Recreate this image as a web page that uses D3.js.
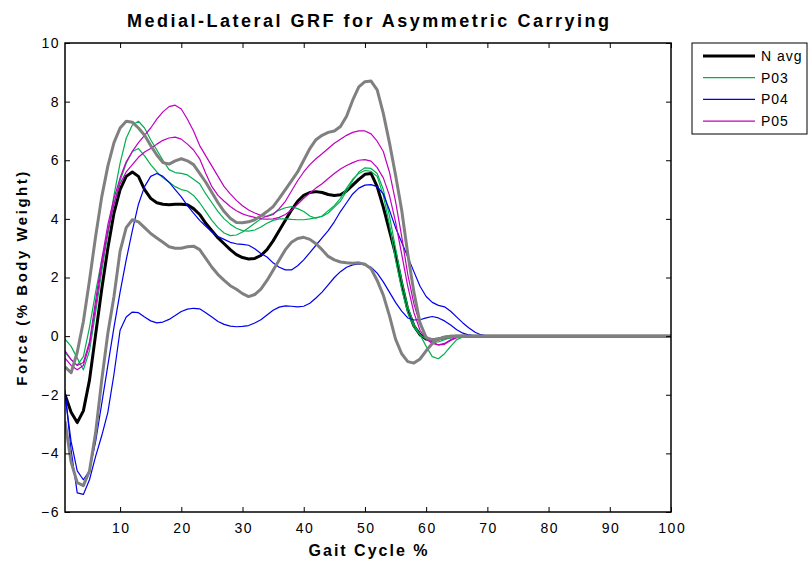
<!DOCTYPE html>
<html><head><meta charset="utf-8">
<script src="https://cdn.jsdelivr.net/npm/d3@7"></script>
<style>body{margin:0;background:#fff} svg{display:block} text{font-family:Arial,"Liberation Sans",sans-serif}</style>
</head><body><svg id="c" width="812" height="561"></svg>
<script>
const gaitPct = d3.range(1, 101);
const xTicks = [10,20,30,40,50,60,70,80,90,100];
const yTicks = [-6,-4,-2,0,2,4,6,8,10];
const legendLabels = ["N avg","P03","P04","P05"];

const nAvg = [-2.0,-2.6,-2.95,-2.55,-1.5,0.05,1.6,3.0,4.2,5.0, 5.45,5.6,5.45,5.0,4.7,4.55,4.5,4.48,4.5,4.5,
 4.48,4.35,4.15,3.85,3.6,3.35,3.15,2.95,2.78,2.68, 2.63,2.65,2.75,2.95,3.25,3.6,3.95,4.3,4.6,4.8,
 4.9,4.93,4.9,4.83,4.8,4.82,4.95,5.15,5.35,5.52, 5.55,5.1,4.4,3.6,2.8,1.8,0.9,0.35,0.05,-0.1,
 -0.12,-0.1,-0.05,-0.02,0,0,0,0,0,0, 0,0,0,0,0,0,0,0,0,0, 0,0,0,0,0,0,0,0,0,0, 0,0,0,0,0,0,0,0,0,0];
const sdHigh = [-1.05,-1.25,-0.55,0.5,1.9,3.4,4.75,5.8,6.6,7.1, 7.33,7.3,7.1,6.85,6.5,6.18,5.92,5.87,5.98,6.05,
 5.98,5.85,5.55,5.25,4.9,4.55,4.25,4.02,3.88,3.87, 3.9,3.97,4.1,4.25,4.42,4.7,5.0,5.3,5.6,6.0,
 6.4,6.7,6.85,6.95,7.0,7.15,7.5,8.05,8.5,8.68, 8.7,8.4,7.6,6.6,5.5,4.3,2.8,1.5,0.45,-0.05,
 -0.12,-0.1,-0.05,0,0,0,0,0,0,0, 0,0,0,0,0,0,0,0,0,0, 0,0,0,0,0,0,0,0,0,0, 0,0,0,0,0,0,0,0,0,0];
const sdLow = [-2.9,-4.3,-5.0,-5.1,-4.6,-3.3,-1.5,0.1,1.35,2.9, 3.7,3.97,3.9,3.7,3.5,3.35,3.2,3.05,3.0,3.0,
 3.05,3.07,2.95,2.65,2.35,2.1,1.9,1.72,1.6,1.45, 1.35,1.42,1.6,1.9,2.25,2.6,2.95,3.2,3.33,3.37,
 3.3,3.15,2.95,2.72,2.6,2.53,2.5,2.49,2.5,2.45, 2.3,1.9,1.4,0.7,-0.1,-0.6,-0.87,-0.92,-0.78,-0.5,
 -0.25,-0.1,-0.03,0,0,0,0,0,0,0, 0,0,0,0,0,0,0,0,0,0, 0,0,0,0,0,0,0,0,0,0, 0,0,0,0,0,0,0,0,0,0];
const p03a = [-0.1,-0.35,-0.75,-1.15,-0.5,0.8,2.2,3.5,4.8,5.9, 6.75,7.2,7.33,7.1,6.7,6.35,6.0,5.68,5.58,5.55,
 5.5,5.35,5.2,4.85,4.55,4.25,4.0,3.82,3.68,3.6, 3.58,3.62,3.72,3.85,3.95,4.0,4.0,3.98,3.97,3.97,
 4.0,4.04,4.08,4.2,4.4,4.6,4.95,5.3,5.6,5.74, 5.72,5.55,5.0,4.1,3.0,1.9,1.0,0.4,0.05,-0.35,
 -0.7,-0.77,-0.6,-0.35,-0.12,-0.03,0,0,0,0, 0,0,0,0,0,0,0,0,0,0, 0,0,0,0,0,0,0,0,0,0, 0,0,0,0,0,0,0,0,0,0];
const p03b = [-0.55,-0.8,-1.0,-0.7,0.3,1.5,2.6,3.5,4.5,5.3, 5.9,6.3,6.4,6.15,5.85,5.6,5.4,5.25,5.1,5.0,
 4.95,4.8,4.55,4.25,3.95,3.7,3.52,3.43,3.45,3.55, 3.7,3.85,4.0,4.1,4.18,4.3,4.38,4.42,4.35,4.25,
 4.1,4.02,4.1,4.28,4.45,4.7,5.05,5.35,5.55,5.65, 5.62,5.45,4.8,3.8,2.6,1.6,0.8,0.3,0.05,-0.1,
 -0.2,-0.2,-0.12,-0.05,0,0,0,0,0,0, 0,0,0,0,0,0,0,0,0,0, 0,0,0,0,0,0,0,0,0,0, 0,0,0,0,0,0,0,0,0,0];
const p04a = [-2.0,-3.6,-4.6,-4.9,-4.6,-3.6,-2.3,-1.0,0.3,1.5, 2.6,3.6,4.5,5.1,5.45,5.55,5.45,5.25,5.0,4.75,
 4.45,4.2,3.95,3.75,3.55,3.4,3.3,3.2,3.15,3.13, 3.1,2.98,2.82,2.7,2.5,2.35,2.26,2.26,2.4,2.6,
 2.85,3.1,3.35,3.6,3.9,4.25,4.55,4.85,5.05,5.15, 5.17,5.1,4.85,4.3,3.7,3.2,2.7,2.2,1.7,1.35,
 1.15,1.05,1.0,0.85,0.65,0.45,0.28,0.13,0.04,0, 0,0,0,0,0,0,0,0,0,0, 0,0,0,0,0,0,0,0,0,0, 0,0,0,0,0,0,0,0,0,0];
const p04b = [-1.85,-3.9,-5.35,-5.4,-4.9,-4.1,-3.4,-2.6,-1.3,0.2, 0.65,0.82,0.8,0.65,0.52,0.45,0.48,0.57,0.7,0.84,
 0.92,0.95,0.93,0.8,0.65,0.5,0.4,0.34,0.32,0.33, 0.36,0.45,0.56,0.72,0.88,0.99,1.03,1.02,1.0,1.02,
 1.12,1.3,1.5,1.75,2.0,2.2,2.35,2.43,2.46,2.43, 2.35,2.15,1.85,1.5,1.15,0.85,0.62,0.55,0.56,0.62,
 0.67,0.62,0.52,0.38,0.22,0.1,0.04,0,0,0, 0,0,0,0,0,0,0,0,0,0, 0,0,0,0,0,0,0,0,0,0, 0,0,0,0,0,0,0,0,0,0];
const p05a = [-0.5,-0.8,-1.0,-0.9,-0.2,1.2,2.6,3.8,4.7,5.4, 5.95,6.3,6.6,6.85,7.1,7.4,7.65,7.83,7.88,7.75,
 7.4,7.0,6.5,6.15,5.8,5.45,5.1,4.85,4.63,4.45, 4.3,4.2,4.12,4.08,4.15,4.35,4.6,4.95,5.3,5.6,
 5.85,6.05,6.22,6.4,6.58,6.72,6.85,6.95,7.0,7.0, 6.9,6.65,6.3,5.6,4.6,3.4,2.1,1.1,0.4,0.0,
 -0.2,-0.3,-0.28,-0.15,-0.05,0,0,0,0,0, 0,0,0,0,0,0,0,0,0,0, 0,0,0,0,0,0,0,0,0,0, 0,0,0,0,0,0,0,0,0,0];
const p05b = [-0.75,-1.0,-1.15,-1.0,-0.3,1.0,2.4,3.6,4.5,5.2, 5.6,5.85,6.1,6.28,6.4,6.55,6.68,6.76,6.79,6.72,
 6.55,6.35,6.05,5.55,5.1,4.8,4.6,4.42,4.28,4.17, 4.1,4.05,4.0,3.99,4.0,4.05,4.15,4.3,4.5,4.7,
 4.88,5.05,5.2,5.38,5.55,5.7,5.82,5.92,6.0,6.02, 5.97,5.75,5.4,4.8,3.9,2.8,1.7,0.8,0.2,-0.1,
 -0.25,-0.3,-0.25,-0.12,-0.03,0,0,0,0,0, 0,0,0,0,0,0,0,0,0,0, 0,0,0,0,0,0,0,0,0,0, 0,0,0,0,0,0,0,0,0,0];

const colors = {avg:"#000000", p03:"#00b050", p04:"#0000ee", p05:"#c000c0", sd:"#808080"};

const svg = d3.select("#c");
const L = 65, R = 671, T = 43, B = 512;
const x = d3.scaleLinear().domain([1,100]).range([L,R]);
const y = d3.scaleLinear().domain([-6,10]).range([B,T]);

svg.append("defs").append("clipPath").attr("id","clip")
  .append("rect").attr("x",L).attr("y",T).attr("width",R-L).attr("height",B-T);

const line = d3.line().x((d,i)=>x(gaitPct[i])).y(d=>y(d));
const g = svg.append("g").attr("clip-path","url(#clip)");
function draw(data, color, w){
  g.append("path").datum(data).attr("d",line).attr("fill","none")
   .attr("stroke",color).attr("stroke-width",w).attr("stroke-linejoin","round");
}
draw(nAvg, colors.avg, 3);
draw(p03a, colors.p03, 1.2); draw(p03b, colors.p03, 1.2);
draw(p04a, colors.p04, 1.2); draw(p04b, colors.p04, 1.2);
draw(p05a, colors.p05, 1.2); draw(p05b, colors.p05, 1.2);
draw(sdHigh, colors.sd, 3); draw(sdLow, colors.sd, 3);

// axes
const ax = svg.append("g").attr("transform",`translate(0,${B})`)
  .call(d3.axisBottom(x).tickValues(xTicks).tickSizeInner(-5).tickSizeOuter(0).tickPadding(11));
const ay = svg.append("g").attr("transform",`translate(${L},0)`)
  .call(d3.axisLeft(y).tickValues(yTicks).tickSizeInner(-5).tickSizeOuter(0).tickPadding(5));
const at = svg.append("g").attr("transform",`translate(0,${T})`)
  .call(d3.axisTop(x).tickValues(xTicks).tickSizeInner(-5).tickSizeOuter(0).tickFormat(""));
const ar = svg.append("g").attr("transform",`translate(${R},0)`)
  .call(d3.axisRight(y).tickValues(yTicks).tickSizeInner(-5).tickSizeOuter(0).tickFormat(""));
[ax,ay,at,ar].forEach(a=>{
  a.selectAll(".domain").remove();
  a.selectAll("text").attr("font-size","14px").attr("letter-spacing","1.5px")
   .attr("font-family","Arial, 'Liberation Sans', sans-serif").attr("fill","#000");
  a.selectAll("line").attr("stroke","#000");
});
ax.selectAll("text").attr("dx","0.75px");
svg.append("rect").attr("x",L).attr("y",T).attr("width",R-L).attr("height",B-T)
  .attr("fill","none").attr("stroke","#000").attr("stroke-width",1.5);

// titles
svg.append("text").attr("x",(L+R)/2+1.2).attr("y",27).attr("text-anchor","middle")
  .attr("font-size","18px").attr("font-weight","bold").attr("letter-spacing","2.5px")
  .text("Medial-Lateral GRF for Asymmetric Carrying");
svg.append("text").attr("x",(L+R)/2+1).attr("y",556).attr("text-anchor","middle")
  .attr("font-size","16px").attr("font-weight","bold").attr("letter-spacing","2px").text("Gait Cycle %");
svg.append("text").attr("transform",`translate(27,${(T+B)/2}) rotate(-90)`).attr("text-anchor","middle")
  .attr("font-size","15px").attr("font-weight","bold").attr("letter-spacing","2.5px").text("Force (% Body Weight)");

// legend
const lg = svg.append("g");
lg.append("rect").attr("x",692).attr("y",43).attr("width",115).attr("height",91)
  .attr("fill","#fff").attr("stroke","#000").attr("stroke-width",1);
const legCols = [colors.avg, colors.p03, colors.p04, colors.p05];
const legW = [3,1.2,1.2,1.2];
legendLabels.forEach((lab,i)=>{
  const yy = 56 + i*21.7;
  lg.append("line").attr("x1",703).attr("x2",755).attr("y1",yy).attr("y2",yy)
    .attr("stroke",legCols[i]).attr("stroke-width",legW[i]);
  lg.append("text").attr("x",761).attr("y",yy+5).attr("font-size","14px").attr("letter-spacing","1px").text(lab);
});
</script></body></html>
